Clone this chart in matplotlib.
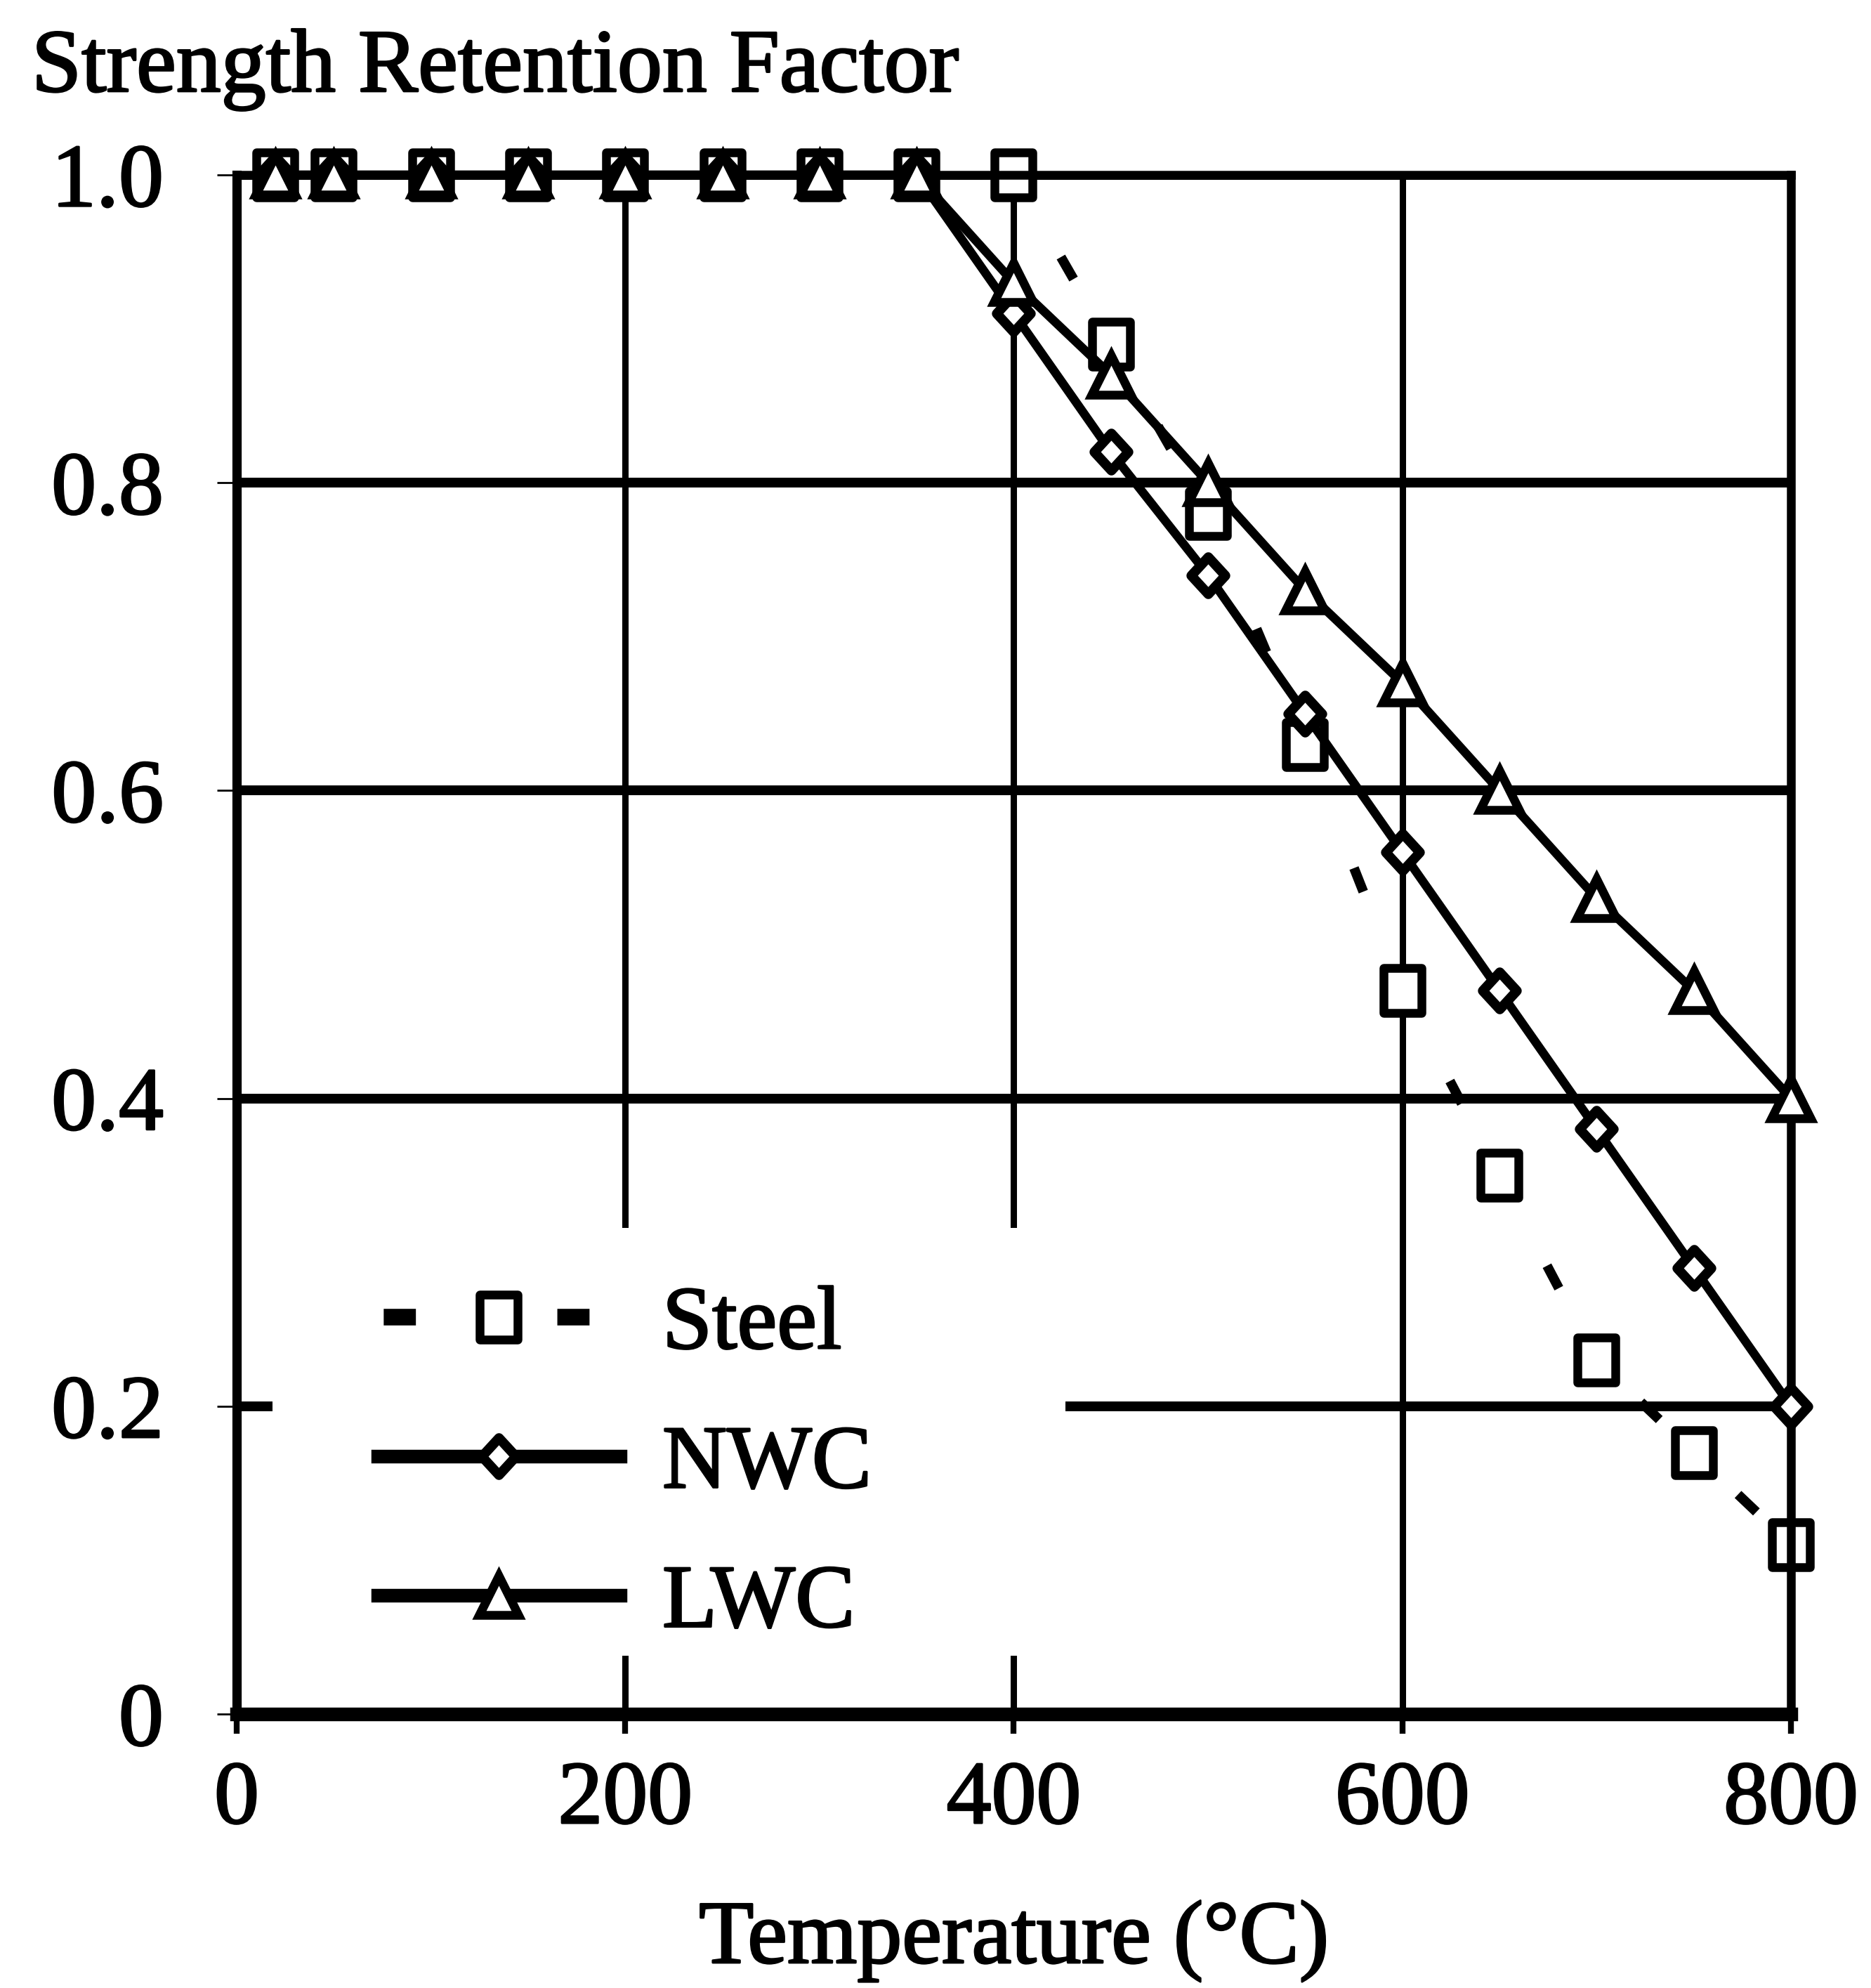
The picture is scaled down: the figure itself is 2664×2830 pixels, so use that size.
import matplotlib
matplotlib.use('Agg')
import matplotlib.pyplot as plt
import matplotlib.patheffects as pe
import numpy as np
from matplotlib.path import Path
from matplotlib.patches import Rectangle

plt.rcParams['font.family'] = ['Liberation Serif', 'DejaVu Serif']
plt.rcParams['lines.scale_dashes'] = False

# data
temp = [20, 50, 100, 150, 200, 250, 300, 350, 400, 450, 500, 550, 600, 650, 700, 750, 800]
steel = [1.0, 1.0, 1.0, 1.0, 1.0, 1.0, 1.0, 1.0, 1.0, 0.89, 0.78, 0.63, 0.47, 0.35, 0.23, 0.17, 0.11]
nwc = [1.0, 1.0, 1.0, 1.0, 1.0, 1.0, 1.0, 1.0, 0.91, 0.82, 0.74, 0.65, 0.56, 0.47, 0.38, 0.29, 0.20]
lwc = [1.0, 1.0, 1.0, 1.0, 1.0, 1.0, 1.0, 1.0, 0.93, 0.87, 0.80, 0.73, 0.67, 0.60, 0.53, 0.47, 0.40]

xticks = [0, 200, 400, 600, 800]
xlabels = ['0', '200', '400', '600', '800']
yticks = [0, 0.2, 0.4, 0.6, 0.8, 1.0]
ylabels = ['0', '0.2', '0.4', '0.6', '0.8', '1.0']

FS = 92

# scanned markers are a bit taller than wide
sq = Path([(-0.43, -0.5), (0.43, -0.5), (0.43, 0.5), (-0.43, 0.5), (-0.43, -0.5)], closed=True)
dia = Path([(0, 0.5), (0.46, 0), (0, -0.5), (-0.46, 0), (0, 0.5)], closed=True)

fig = plt.figure(figsize=(26.64, 28.30), dpi=100)
ax = fig.add_axes([0.1265, 0.1378, 0.8307, 0.7742])
ax.set_xlim(0, 800)
ax.set_ylim(0, 1.0)

ax.set_xticks(xticks)
ax.set_xticklabels(xlabels)
ax.set_yticks(yticks)
ax.set_yticklabels(ylabels)
ax.tick_params(axis='x', direction='out', length=20, width=6, pad=28, labelsize=FS)
ax.tick_params(axis='y', direction='out', length=20, width=2, pad=55, labelsize=FS)

ax.set_axisbelow(True)
ax.grid(axis='y', color='black', lw=10)
ax.grid(axis='x', color='black', lw=6.5)
for side, lw in [('top', 9), ('right', 9), ('left', 9.5), ('bottom', 14)]:
    ax.spines[side].set_linewidth(lw)

# white area behind the legend hides the grid there
ax.add_patch(Rectangle((0.023, 0.038), 0.51, 0.278, transform=ax.transAxes,
                       facecolor='white', edgecolor='none', zorder=1))

ax.plot(temp, steel, ls='none', color='black', marker=sq, ms=46, mfc='white',
        mec='black', mew=9, clip_on=False, zorder=2.5, label='Steel')
ax.plot(temp, nwc, color='black', lw=9, marker=dia, ms=38, mfc='white',
        mec='black', mew=10, clip_on=False, zorder=3, label='NWC')
ax.plot(temp, lwc, color='black', lw=9, marker='^', ms=40, mfc='white',
        mec='black', mew=9, clip_on=False, zorder=4, label='LWC')

# steel line: one short dash per segment
pts = ax.transData.transform(np.column_stack([temp, steel])) * 72 / fig.dpi
on = 26
for i in range(len(temp) - 1):
    seg = np.hypot(*(pts[i + 1] - pts[i]))
    off = seg + 50
    offset = (on + off) - (seg * 0.55 - on / 2)
    ax.plot(temp[i:i + 2], steel[i:i + 2], color='black', lw=10,
            ls=(offset, (on, off)), zorder=2.2)

leg = ax.legend(loc='upper left', bbox_to_anchor=(0.0908, 0.2785), frameon=False,
                fontsize=FS, handlelength=2.7, handletextpad=0.47,
                labelspacing=0.64, borderaxespad=0, borderpad=0)
lines = leg.get_lines()
lines[0].set_linestyle((172, (33, 145)))
lines[0].set_linewidth(17)
lines[1].set_linewidth(14)
lines[2].set_linewidth(14)

t1 = fig.text(45 / 2664, 1 - 130 / 2830, 'Strength Retention Factor', fontsize=FS,
              ha='left', va='baseline')
t2 = fig.text(0.5418, 1 - 2794 / 2830, 'Temperature (°C)', fontsize=FS,
              ha='center', va='baseline')

# the scanned lettering is heavier than a plain regular weight
for t in ax.get_xticklabels() + ax.get_yticklabels() + leg.get_texts() + [t1, t2]:
    t.set_path_effects([pe.withStroke(linewidth=2, foreground='black')])

fig.savefig('out.png', dpi=100)
